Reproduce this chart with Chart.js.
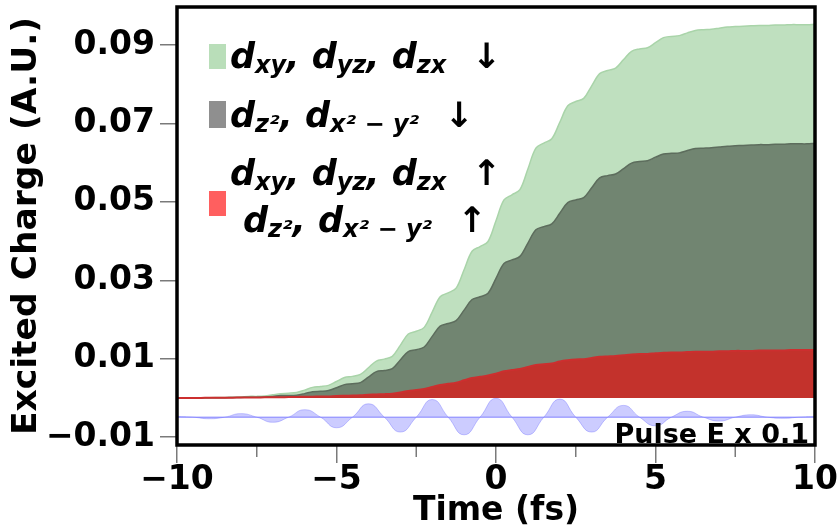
<!DOCTYPE html>
<html>
<head>
<meta charset="utf-8">
<script src="https://cdn.jsdelivr.net/npm/chart.js@4.4.1/dist/chart.umd.min.js"></script>
<style>
  html, body { margin: 0; padding: 0; background: #fff; }
</style>
</head>
<body>
<canvas id="chart" width="840" height="531"></canvas>
<script>
// time grid (fs) for the charge curves
const time = [
    -10, -9.75, -9.5, -9.25, -9, -8.75, -8.5, -8.25,
    -8, -7.75, -7.5, -7.25, -7, -6.75, -6.5, -6.25,
    -6, -5.75, -5.5, -5.25, -5, -4.75, -4.5, -4.25,
    -4, -3.75, -3.5, -3.25, -3, -2.75, -2.5, -2.25,
    -2, -1.75, -1.5, -1.25, -1, -0.75, -0.5, -0.25,
    0, 0.25, 0.5, 0.75, 1, 1.25, 1.5, 1.75,
    2, 2.25, 2.5, 2.75, 3, 3.25, 3.5, 3.75,
    4, 4.25, 4.5, 4.75, 5, 5.25, 5.5, 5.75,
    6, 6.25, 6.5, 6.75, 7, 7.25, 7.5, 7.75,
    8, 8.25, 8.5, 8.75, 9, 9.25, 9.5, 9.75,
    10
];

// stacked tops
// red: all spin-up d channels
const upAll = [
    0, 0, 0, 0, 0.00005, 0.00005, 0.00005, 0.00008,
    0.0001, 0.0001, 0.00012, 0.00015, 0.0002, 0.0002, 0.00022, 0.00025,
    0.0003, 0.00033, 0.00036, 0.0004, 0.0005, 0.00055, 0.0006, 0.00068,
    0.0008, 0.0009, 0.00097, 0.0011, 0.0014, 0.0018, 0.0020, 0.0023,
    0.0028, 0.0033, 0.0036, 0.0039, 0.0045, 0.0051, 0.0054, 0.0057,
    0.0062, 0.0068, 0.0071, 0.0074, 0.0079, 0.0084, 0.0086, 0.0088,
    0.0093, 0.0096, 0.0098, 0.0099, 0.0102, 0.0105, 0.0106, 0.0107,
    0.0109, 0.0111, 0.0112, 0.0112, 0.0114, 0.0115, 0.0116, 0.0116,
    0.0117, 0.0118, 0.0118, 0.0118, 0.0119, 0.0119, 0.0120, 0.0120,
    0.0120, 0.0121, 0.0121, 0.0121, 0.0121, 0.0122, 0.0122, 0.0122,
    0.0122
];
// grey: + eg spin-down
const egDown = [
    0, 0, 0, 0, 0.00005, 0.00006, 0.00007, 0.0001,
    0.00013, 0.0002, 0.0002, 0.00025, 0.0004, 0.0006, 0.0006, 0.0007,
    0.0011, 0.0016, 0.0017, 0.0019, 0.0026, 0.0034, 0.0036, 0.0039,
    0.0053, 0.0067, 0.0070, 0.0075, 0.0097, 0.0118, 0.0123, 0.0130,
    0.0157, 0.0183, 0.0190, 0.0197, 0.0224, 0.0251, 0.0258, 0.0267,
    0.0305, 0.0343, 0.0352, 0.0361, 0.0395, 0.0429, 0.0437, 0.0444,
    0.0471, 0.0498, 0.0505, 0.0511, 0.0536, 0.0561, 0.0567, 0.0571,
    0.0585, 0.0599, 0.0603, 0.0605, 0.0614, 0.0622, 0.0624, 0.0625,
    0.0631, 0.0636, 0.0637, 0.0638, 0.0640, 0.0642, 0.0643, 0.0644,
    0.0645, 0.0646, 0.0646, 0.0647, 0.0647, 0.0648, 0.0648, 0.0648,
    0.0649
];
// green: + t2g spin-down (total)
const t2gDown = [
    0, 0, 0, 0, 0.00007, 0.0001, 0.00012, 0.00015,
    0.00025, 0.0004, 0.0004, 0.0005, 0.0008, 0.0011, 0.0012, 0.0014,
    0.0020, 0.0027, 0.0029, 0.0032, 0.0042, 0.0052, 0.0055, 0.0060,
    0.0077, 0.0094, 0.0099, 0.0106, 0.0134, 0.0163, 0.0170, 0.0180,
    0.0219, 0.0258, 0.0268, 0.0280, 0.0327, 0.0374, 0.0386, 0.0399,
    0.0452, 0.0505, 0.0518, 0.0531, 0.0584, 0.0637, 0.0650, 0.0661,
    0.0703, 0.0745, 0.0756, 0.0764, 0.0796, 0.0827, 0.0835, 0.0841,
    0.0863, 0.0884, 0.0890, 0.0893, 0.0906, 0.0919, 0.0922, 0.0924,
    0.0931, 0.0937, 0.0939, 0.0940, 0.0943, 0.0946, 0.0947, 0.0948,
    0.0949, 0.0950, 0.0950, 0.0951, 0.0951, 0.0952, 0.0952, 0.0952,
    0.0953
];

// pulse (E x 0.1, shifted down)
const PULSE_BASE = -0.0049;
const pulseTime = [
    -10, -9.5, -9, -8.5, -8, -7.5, -7, -6.5,
    -6, -5.5, -5, -4.5, -4, -3.5, -3, -2.5,
    -2, -1.5, -1, -0.5, 0, 0.5, 1, 1.5,
    2, 2.5, 3, 3.5, 4, 4.5, 5, 5.5,
    6, 6.5, 7, 7.5, 8, 8.5, 9, 9.5,
    10
];
const pulseE = [
    -0.0047, -0.0049, -0.0053, -0.0049, -0.0040, -0.0049, -0.0062, -0.0049,
    -0.0030, -0.0049, -0.0076, -0.0049, -0.0015, -0.0049, -0.0087, -0.0049,
    -0.0004, -0.0049, -0.0094, -0.0049, -0.0001, -0.0049, -0.0094, -0.0049,
    -0.0003, -0.0049, -0.0087, -0.0049, -0.0019, -0.0049, -0.0071, -0.0049,
    -0.0034, -0.0049, -0.0059, -0.0049, -0.0043, -0.0049, -0.0052, -0.0049,
    -0.0047
];

const xTicks = [-10, -5, 0, 5, 10];
const xMinor = [-7.5, -2.5, 2.5, 7.5];
const yTicks = [-0.01, 0.01, 0.03, 0.05, 0.07, 0.09];

const FONT = '"DejaVu Sans", sans-serif';
const MINUS = '\u2212';

function pts(xs, ys) {
    return xs.map((x, i) => ({ x: x, y: ys[i] }));
}

// legend pieces, mathtext-like
const MAIN = 'italic bold 35px ' + FONT;
const SUB = 'italic bold 24px ' + FONT;
const ARROW = 'bold 35px ' + FONT;
const t2gText = [['d', MAIN], ['xy', SUB, 5], [', ', MAIN], ['d', MAIN], ['yz', SUB, 5], [', ', MAIN], ['d', MAIN], ['zx', SUB, 5]];
const egText = [['d', MAIN], ['z²', SUB, 5], [', ', MAIN], ['d', MAIN], ['x² − y²', SUB, 5]];

function mathLine(ctx, parts, x, y, arrow) {
    ctx.textAlign = 'left';
    for (const [s, f, dy] of parts) {
        ctx.font = f;
        ctx.fillText(s, x, y + (dy || 0));
        x += ctx.measureText(s).width;
    }
    ctx.font = ARROW;
    ctx.textAlign = 'center';
    ctx.fillText(arrow, x + 40, y);
}

const decor = {
    id: 'decor',
    afterDraw(chart) {
        const ctx = chart.ctx, a = chart.chartArea, xs = chart.scales.x;
        ctx.save();
        // minor ticks
        ctx.strokeStyle = '#7a7a7a';
        ctx.lineWidth = 1.5;
        xMinor.forEach(v => {
            const px = xs.getPixelForValue(v);
            ctx.beginPath();
            ctx.moveTo(px, a.bottom);
            ctx.lineTo(px, a.bottom + 12);
            ctx.stroke();
        });
        // frame
        ctx.strokeStyle = '#000';
        ctx.lineWidth = 3.5;
        ctx.strokeRect(a.left, a.top, a.right - a.left, a.bottom - a.top);

        ctx.fillStyle = '#000';
        ctx.textBaseline = 'alphabetic';
        ctx.font = 'bold 27px ' + FONT;
        ctx.textAlign = 'right';
        ctx.fillText('Pulse E x 0.1', a.right - 6, a.bottom - 2);

        // legend
        ctx.fillStyle = '#b9deb9'; ctx.fillRect(209, 44, 17, 25);
        ctx.fillStyle = '#8f8f8f'; ctx.fillRect(209, 101, 17, 27);
        ctx.fillStyle = '#ff5f5f'; ctx.fillRect(209, 191, 17, 25);
        ctx.fillStyle = '#000';
        mathLine(ctx, t2gText, 230, 68, '↓');
        mathLine(ctx, egText, 230, 127, '↓');
        mathLine(ctx, t2gText, 230, 185, '↑');
        mathLine(ctx, egText, 243, 232, '↑');
        ctx.restore();
    }
};

const tickFont = { family: FONT, size: 33, weight: 'bold' };

new Chart(document.getElementById('chart'), {
    type: 'line',
    data: {
        datasets: [{
            label: 'up',
            data: pts(time, upAll),
            fill: 'origin',
            backgroundColor: '#c3322c',
            borderColor: '#cc2f2f',
            borderWidth: 2
        }, {
            label: 'eg down',
            data: pts(time, egDown),
            fill: '-1',
            backgroundColor: '#718571',
            borderColor: '#5d6d5d',
            borderWidth: 1.5
        }, {
            label: 't2g down',
            data: pts(time, t2gDown),
            fill: '-1',
            backgroundColor: '#bfe0bf',
            borderColor: '#a9d4a9',
            borderWidth: 1.5
        }, {
            label: 'pulse',
            data: pts(pulseTime, pulseE),
            fill: { value: PULSE_BASE },
            tension: 0.5,
            backgroundColor: 'rgba(100, 100, 255, 0.33)',
            borderColor: 'rgba(100, 100, 255, 0.35)',
            borderWidth: 1
        }, {
            label: 'pulse base',
            data: pts([-10, 10], [PULSE_BASE, PULSE_BASE]),
            fill: false,
            tension: 0,
            borderColor: 'rgba(110, 110, 255, 0.55)',
            borderWidth: 1.5
        }]
    },
    options: {
        responsive: false,
        animation: false,
        layout: { padding: { left: 0, top: 7, right: 25, bottom: 0 } },
        elements: {
            point: { radius: 0 },
            line: { tension: 0.35 }
        },
        plugins: {
            legend: { display: false },
            tooltip: { enabled: false }
        },
        scales: {
            x: {
                type: 'linear',
                min: -10,
                max: 10,
                afterBuildTicks: s => { s.ticks = xTicks.map(v => ({ value: v })); },
                afterFit: s => { s.height = 86; s.paddingLeft = 0; s.paddingRight = 0; },
                ticks: {
                    font: tickFont,
                    color: '#000',
                    padding: -2,
                    maxRotation: 0,
                    callback: v => (v < 0 ? MINUS : '') + Math.abs(v)
                },
                grid: { drawOnChartArea: false, tickLength: 18, color: '#7a7a7a', lineWidth: 1.5 },
                border: { display: false },
                title: {
                    display: true,
                    text: 'Time (fs)',
                    color: '#000',
                    font: { family: FONT, size: 33, weight: 'bold' },
                    padding: { top: 0, bottom: 0 }
                }
            },
            y: {
                type: 'linear',
                min: -0.012,
                max: 0.0997,
                afterBuildTicks: s => { s.ticks = yTicks.map(v => ({ value: v })); },
                afterFit: s => { s.width = 177; s.paddingTop = 0; s.paddingBottom = 0; },
                ticks: {
                    font: tickFont,
                    color: '#000',
                    padding: 5,
                    callback: v => (v < 0 ? MINUS : '') + Math.abs(v).toFixed(2)
                },
                grid: { drawOnChartArea: false, tickLength: 17, color: '#7a7a7a', lineWidth: 1.5 },
                border: { display: false },
                title: {
                    display: true,
                    text: 'Excited Charge (A.U.)',
                    color: '#000',
                    font: { family: FONT, size: 34.5, weight: 'bold' },
                    padding: { top: 6, bottom: 0 }
                }
            }
        }
    },
    plugins: [decor]
});
</script>
</body>
</html>
